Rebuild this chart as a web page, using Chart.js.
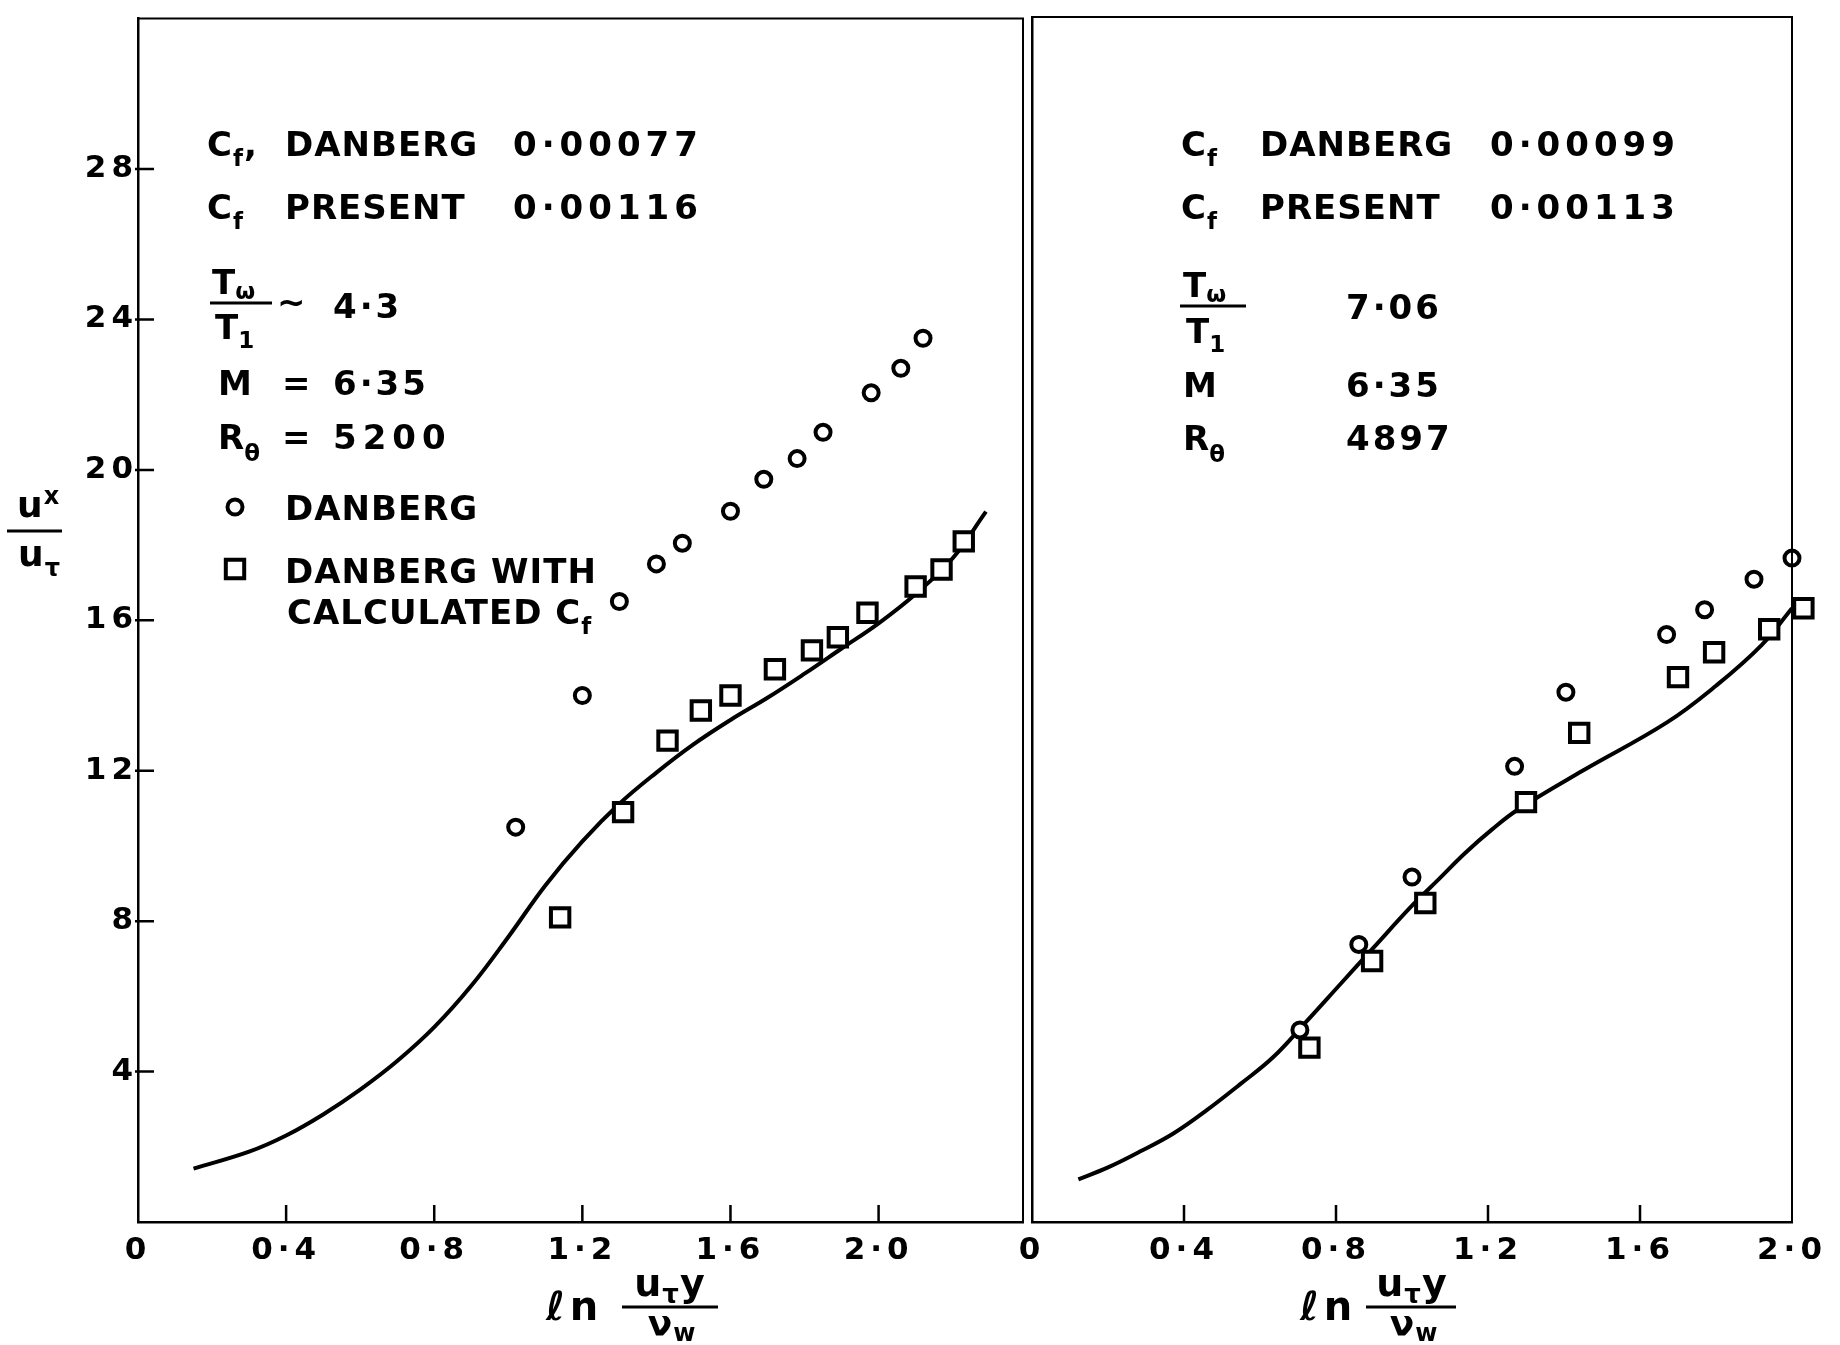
<!DOCTYPE html>
<html>
<head>
<meta charset="utf-8">
<script src="https://cdn.jsdelivr.net/npm/chart.js@4.4.1/dist/chart.umd.min.js"></script>
<style>
  html, body { margin: 0; padding: 0; background: #fff; }
  #wrap { position: relative; width: 1840px; height: 1345px; overflow: hidden; background: #fff; }
  canvas { position: absolute; top: 0; }
  #left { left: 0; }
  #right { left: 1000px; }
</style>
</head>
<body>
<div id="wrap">
  <canvas id="left" width="1040" height="1345"></canvas>
  <canvas id="right" width="840" height="1345"></canvas>
</div>
<script>
// ---- left panel: Tw/T1 ~ 4.3, M = 6.35, Re = 5200 ----
const leftDanbergX = [1.02, 1.20, 1.30, 1.40, 1.47, 1.60, 1.69, 1.78, 1.85, 1.98, 2.06, 2.12];
const leftDanbergY = [10.5, 14.0, 16.5, 17.5, 18.05, 18.9, 19.75, 20.3, 21.0, 22.05, 22.7, 23.5];
const leftCalcX = [1.14, 1.31, 1.43, 1.52, 1.60, 1.72, 1.82, 1.89, 1.97, 2.10, 2.17, 2.23];
const leftCalcY = [8.1, 10.9, 12.8, 13.6, 14.0, 14.7, 15.2, 15.55, 16.2, 16.9, 17.35, 18.1];
const leftCurveX = [0.15, 0.30, 0.40, 0.50, 0.60, 0.70, 0.80, 0.90, 1.00, 1.10, 1.20, 1.30, 1.40, 1.50, 1.60, 1.70, 1.80, 1.90, 2.00, 2.10, 2.20, 2.29];
const leftCurveY = [1.42, 1.87, 2.30, 2.86, 3.52, 4.28, 5.18, 6.28, 7.58, 8.95, 10.12, 11.12, 11.95, 12.70, 13.35, 13.94, 14.58, 15.25, 15.92, 16.70, 17.65, 18.89];

// ---- right panel: Tw/T1 7.06, M 6.35, Re 4897 ----
const rightDanbergX = [0.705, 0.86, 1.00, 1.27, 1.405, 1.67, 1.77, 1.90, 2.00];
const rightDanbergY = [5.1, 7.37, 9.16, 12.1, 14.07, 15.6, 16.26, 17.07, 17.63];
const rightCalcX = [0.73, 0.895, 1.035, 1.30, 1.44, 1.70, 1.795, 1.94, 2.03];
const rightCalcY = [4.63, 6.93, 8.47, 11.15, 12.99, 14.47, 15.13, 15.74, 16.3];
const rightCurveX = [0.122, 0.20, 0.284, 0.372, 0.46, 0.548, 0.635, 0.72, 0.81, 0.90, 1.00, 1.07, 1.14, 1.21, 1.28, 1.45, 1.67, 1.80, 1.92, 2.00];
const rightCurveY = [1.13, 1.45, 1.87, 2.35, 2.97, 3.66, 4.38, 5.30, 6.30, 7.30, 8.40, 9.10, 9.80, 10.42, 10.96, 11.99, 13.26, 14.24, 15.32, 16.3];

const yTickStep = 4;
const xTickStep = 0.4;

const FONT = '"DejaVu Sans", sans-serif';
const toPts = (xs, ys) => xs.map((x, i) => ({ x: x, y: ys[i] }));
const fmtX = v => (v === 0 ? '0' : v.toFixed(1).replace('.', '\u00b7'));

// text with sub/superscripts
function drawRich(ctx, x, y, parts, size, center) {
  const list = parts.map(p => (typeof p === 'string' ? { t: p } : { t: p[0], k: p[1], dy: p[2] }));
  const fontFor = it => 'bold ' + Math.round(it.k ? size * 0.68 : size) + 'px ' + FONT;
  if (center) {
    let w = 0;
    list.forEach(it => { ctx.font = fontFor(it); w += ctx.measureText(it.t).width; });
    x -= w / 2;
  }
  list.forEach(it => {
    ctx.font = fontFor(it);
    let dy = 0;
    if (it.k === 'sub') dy = it.dy != null ? it.dy : size * 0.3;
    if (it.k === 'sup') dy = it.dy != null ? it.dy : -size * 0.38;
    ctx.fillText(it.t, x, y + dy);
    x += ctx.measureText(it.t).width;
  });
}

// annotations, page coordinates
const NOTES = {
  left: [
    { x: 207, y: 156, t: ['C', ['f', 'sub'], ','] },
    { x: 285, y: 156, t: ['DANBERG'] },
    { x: 513, y: 156, t: ['0\u00b700077'], ls: 5 },
    { x: 207, y: 219, t: ['C', ['f', 'sub']] },
    { x: 285, y: 219, t: ['PRESENT'] },
    { x: 513, y: 219, t: ['0\u00b700116'], ls: 5 },
    { x: 212, y: 294, t: ['T', ['\u03c9', 'sub', 5]], ls: 0 },
    { bar: [210, 272, 303] },
    { x: 215, y: 339, t: ['T', ['1', 'sub', 9]], ls: 0 },
    { x: 277, y: 314, t: ['~'] },
    { x: 333, y: 318, t: ['4\u00b73'], ls: 3 },
    { x: 218, y: 395, t: ['M'] },
    { x: 282, y: 395, t: ['='], ls: 0 },
    { x: 333, y: 395, t: ['6\u00b735'], ls: 3 },
    { x: 218, y: 449, t: ['R', ['\u03b8', 'sub', 12]], ls: 0 },
    { x: 282, y: 449, t: ['='], ls: 0 },
    { x: 333, y: 449, t: ['5200'], ls: 6 },
    { mark: 'circle', x: 235, y: 507 },
    { x: 285, y: 520, t: ['DANBERG'] },
    { mark: 'rect', x: 235, y: 569 },
    { x: 285, y: 583, t: ['DANBERG WITH'] },
    { x: 287, y: 624, t: ['CALCULATED C', ['f', 'sub']] },
    // y axis title
    { x: 17, y: 517, t: ['u', ['x', 'sup', -13]], size: 36, ls: 1 },
    { bar: [7, 62, 531] },
    { x: 18, y: 566, t: ['u', ['\u03c4', 'sub', 10]], size: 36, ls: 1 },
    // x axis title
    { x: 546, y: 1320, t: ['\u2113n'], size: 40, ls: 5 },
    { cx: 670, y: 1296, t: ['u', ['\u03c4', 'sub', 7], 'y'], size: 38, ls: 1 },
    { bar: [622, 718, 1307] },
    { cx: 672, y: 1336, t: ['\u03bd', ['w', 'sub', 5]], size: 36, ls: 1 }
  ],
  right: [
    { x: 1181, y: 156, t: ['C', ['f', 'sub']] },
    { x: 1260, y: 156, t: ['DANBERG'] },
    { x: 1490, y: 156, t: ['0\u00b700099'], ls: 5 },
    { x: 1181, y: 219, t: ['C', ['f', 'sub']] },
    { x: 1260, y: 219, t: ['PRESENT'] },
    { x: 1490, y: 219, t: ['0\u00b700113'], ls: 5 },
    { x: 1183, y: 297, t: ['T', ['\u03c9', 'sub', 5]], ls: 0 },
    { bar: [1180, 1246, 306] },
    { x: 1186, y: 343, t: ['T', ['1', 'sub', 9]], ls: 0 },
    { x: 1346, y: 319, t: ['7\u00b706'], ls: 3 },
    { x: 1183, y: 397, t: ['M'] },
    { x: 1346, y: 397, t: ['6\u00b735'], ls: 3 },
    { x: 1183, y: 450, t: ['R', ['\u03b8', 'sub', 12]], ls: 0 },
    { x: 1346, y: 450, t: ['4897'], ls: 3 },
    { x: 1300, y: 1320, t: ['\u2113n'], size: 40, ls: 5 },
    { cx: 1412, y: 1296, t: ['u', ['\u03c4', 'sub', 7], 'y'], size: 38, ls: 1 },
    { bar: [1366, 1456, 1307] },
    { cx: 1414, y: 1336, t: ['\u03bd', ['w', 'sub', 5]], size: 36, ls: 1 }
  ]
};

function drawMark(ctx, kind, x, y) {
  ctx.save();
  ctx.lineWidth = 4;
  ctx.strokeStyle = '#000';
  ctx.fillStyle = '#fff';
  ctx.beginPath();
  if (kind === 'circle') ctx.arc(x, y, 7.5, 0, Math.PI * 2);
  else { const h = 13 * Math.SQRT1_2; ctx.rect(x - h, y - h, 2 * h, 2 * h); }
  ctx.fill();
  ctx.stroke();
  ctx.restore();
}

const spacing = {
  id: 'spacing',
  beforeDraw(chart) { chart.ctx.letterSpacing = '5px'; }
};

const notes = {
  id: 'notes',
  afterDraw(chart) {
    const ctx = chart.ctx;
    const off = chart.canvas.offsetLeft;
    ctx.save();
    ctx.fillStyle = '#000';
    ctx.strokeStyle = '#000';
    ctx.textAlign = 'left';
    ctx.textBaseline = 'alphabetic';
    for (const n of NOTES[chart.canvas.id]) {
      ctx.letterSpacing = (n.ls != null ? n.ls : 1) + 'px';
      if (n.bar) {
        ctx.lineWidth = 3;
        ctx.beginPath();
        ctx.moveTo(n.bar[0] - off, n.bar[2]);
        ctx.lineTo(n.bar[1] - off, n.bar[2]);
        ctx.stroke();
      } else if (n.mark) {
        drawMark(ctx, n.mark, n.x - off, n.y);
      } else {
        const center = n.cx != null;
        drawRich(ctx, (center ? n.cx : n.x) - off, n.y, n.t, n.size || 34, center);
      }
    }
    ctx.restore();
  }
};

// frame (top + right border) and inward tick marks
const frame = {
  id: 'frame',
  afterDraw(chart) {
    const { ctx, chartArea: a, scales } = chart;
    ctx.save();
    ctx.strokeStyle = '#000';
    ctx.lineWidth = 2;
    ctx.beginPath();
    ctx.moveTo(a.left, a.top);
    ctx.lineTo(a.right, a.top);
    ctx.lineTo(a.right, a.bottom);
    ctx.stroke();
    ctx.lineWidth = 2.5;
    ctx.beginPath();
    scales.x.ticks.forEach(t => {
      if (t.value <= scales.x.min || t.value >= scales.x.max) return;
      const px = scales.x.getPixelForValue(t.value);
      ctx.moveTo(px, a.bottom);
      ctx.lineTo(px, a.bottom - 17);
    });
    if (chart.canvas.id === 'left') {
      scales.y.ticks.forEach(t => {
        if (t.value <= scales.y.min || t.value >= scales.y.max) return;
        const py = scales.y.getPixelForValue(t.value);
        ctx.moveTo(a.left - 3, py);
        ctx.lineTo(a.left + 16, py);
      });
    }
    ctx.stroke();
    ctx.restore();
  }
};

function panel(id, d) {
  const tickFont = { family: FONT, size: 31, weight: 'bold' };
  return new Chart(document.getElementById(id), {
    type: 'scatter',
    data: {
      datasets: [
        { label: 'DANBERG', data: toPts(d.dX, d.dY), pointStyle: 'circle', pointRadius: 7.5,
          borderWidth: 4, borderColor: '#000', backgroundColor: '#fff', clip: false },
        { label: 'DANBERG WITH CALCULATED Cf', data: toPts(d.cX, d.cY), pointStyle: 'rect', pointRadius: 13,
          borderWidth: 4, borderColor: '#000', backgroundColor: '#fff', clip: false },
        { label: 'PRESENT', data: toPts(d.lX, d.lY), showLine: true, pointRadius: 0, borderWidth: 4,
          borderColor: '#000', tension: 0.4, clip: false }
      ]
    },
    options: {
      responsive: false,
      animation: false,
      devicePixelRatio: 1,
      layout: { padding: { top: 11, right: d.padRight, left: 0, bottom: 0 } },
      plugins: { legend: { display: false }, tooltip: { enabled: false } },
      scales: {
        x: {
          type: 'linear', min: 0, max: d.xMax,
          afterFit: s => { s.height = 123; },
          grid: { display: false, drawTicks: false },
          border: { display: true, color: '#000', width: 2.5 },
          ticks: { stepSize: xTickStep, includeBounds: false, autoSkip: false, maxRotation: 0,
            padding: 10, color: '#000', font: tickFont, callback: fmtX }
        },
        y: {
          type: 'linear', min: 0, max: 32,
          afterFit: s => { s.width = d.yWidth; },
          grid: { display: false, drawTicks: false },
          border: { display: true, color: '#000', width: 2.5 },
          ticks: { display: d.yLabels, stepSize: yTickStep, autoSkip: false, padding: 0, color: '#000',
            font: tickFont, callback: v => (v === 0 || v === 32 ? '' : String(v)) }
        }
      }
    },
    plugins: [spacing, frame, notes]
  });
}

panel('left', { dX: leftDanbergX, dY: leftDanbergY, cX: leftCalcX, cY: leftCalcY,
  lX: leftCurveX, lY: leftCurveY, xMax: 2.39, padRight: 8, yWidth: 138, yLabels: true });
panel('right', { dX: rightDanbergX, dY: rightDanbergY, cX: rightCalcX, cY: rightCalcY,
  lX: rightCurveX, lY: rightCurveY, xMax: 2.0, padRight: 48, yWidth: 32, yLabels: false });
</script>
</body>
</html>
